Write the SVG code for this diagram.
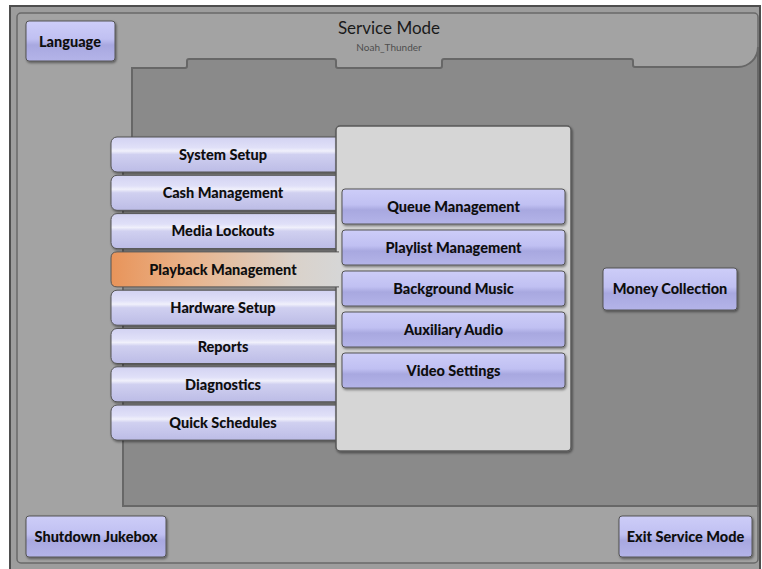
<svg xmlns="http://www.w3.org/2000/svg" width="762" height="569" viewBox="0 0 762 569">
  <defs>
    <linearGradient id="gMenu" x1="0" y1="0" x2="0" y2="1">
      <stop offset="0" stop-color="#d2d2f2"/>
      <stop offset="0.3" stop-color="#e0e0f8"/>
      <stop offset="0.4" stop-color="#f0f0fb"/>
      <stop offset="0.5" stop-color="#d0d0f0"/>
      <stop offset="1" stop-color="#bcbce6"/>
    </linearGradient>
    <linearGradient id="gBtn" x1="0" y1="0" x2="0" y2="1">
      <stop offset="0" stop-color="#cdcdf8"/>
      <stop offset="0.45" stop-color="#c0c0f2"/>
      <stop offset="0.6" stop-color="#a8a8e0"/>
      <stop offset="1" stop-color="#b4b4e8"/>
    </linearGradient>
    <linearGradient id="gActive" x1="0" y1="0" x2="1" y2="0">
      <stop offset="0" stop-color="#e8945a"/>
      <stop offset="0.35" stop-color="#e9b48c"/>
      <stop offset="0.8" stop-color="#dad2ca"/>
      <stop offset="1" stop-color="#d6d6d6"/>
    </linearGradient>
    <filter id="shadow" x="-10%" y="-10%" width="130%" height="140%">
      <feDropShadow dx="1" dy="1.5" stdDeviation="1" flood-color="#000" flood-opacity="0.45"/>
    </filter>
  </defs>
  <style>
    .btn { fill: url(#gBtn); stroke: #555; stroke-width: 1; filter: url(#shadow); }
    .menu { fill: url(#gMenu); stroke: #555; stroke-width: 1; filter: url(#shadow); }
    .lbl { font-family: Lato, "Liberation Sans", sans-serif; font-weight: 900; font-size: 14.5px; fill: #0e0e0e; text-anchor: middle; }
  </style>

  <!-- outer frame and light backdrop -->
  <rect x="0" y="0" width="762" height="569" fill="#ffffff"/>
  <rect x="10" y="6" width="750" height="565" fill="#9d9d9d" stroke="#4e4e4e" stroke-width="2"/>
  <rect x="17" y="13" width="741" height="550" rx="4" fill="#a3a3a3" stroke="#696969" stroke-width="1.5"/>

  <!-- darker work area below the header tab -->
  <path d="M123,506 V140 H132 V68 H185 Q187,68 187,66 V61 Q187,59 189,59 H334 Q336,59 336,61 V66 Q336,68 338,68 H440 Q442,68 442,66 V61 Q442,59 444,59 H631 Q633,59 633,61 V65 Q633,67 635,67 H738 A20,20 0 0 0 758,47 V506 Z" fill="#8a8a8a" stroke="#676767" stroke-width="2"/>

  <!-- header title -->
  <text x="389" y="34" font-family="Lato, 'Liberation Sans', sans-serif" font-size="17" fill="#1a1a1a" text-anchor="middle">Service Mode</text>
  <text x="389" y="51" font-family="Lato, 'Liberation Sans', sans-serif" font-size="10" fill="#4e4e4e" text-anchor="middle">Noah_Thunder</text>

  <g id="language">
    <rect class="btn" x="26" y="21" width="89" height="40" rx="3"/>
    <text class="lbl" x="70" y="47">Language</text>
  </g>

  <!-- main menu column -->
  <g id="system-setup">
    <rect class="menu" x="111" y="137" width="232" height="35" rx="6"/>
    <text class="lbl" x="223" y="160">System Setup</text>
  </g>
  <g id="cash-management">
    <rect class="menu" x="111" y="175.3" width="232" height="35" rx="6"/>
    <text class="lbl" x="223" y="198">Cash Management</text>
  </g>
  <g id="media-lockouts">
    <rect class="menu" x="111" y="213.6" width="232" height="35" rx="6"/>
    <text class="lbl" x="223" y="236">Media Lockouts</text>
  </g>
  <g id="hardware-setup">
    <rect class="menu" x="111" y="290.2" width="232" height="35" rx="6"/>
    <text class="lbl" x="223" y="313">Hardware Setup</text>
  </g>
  <g id="reports">
    <rect class="menu" x="111" y="328.5" width="232" height="35" rx="6"/>
    <text class="lbl" x="223" y="352">Reports</text>
  </g>
  <g id="diagnostics">
    <rect class="menu" x="111" y="366.8" width="232" height="35" rx="6"/>
    <text class="lbl" x="223" y="390">Diagnostics</text>
  </g>
  <g id="quick-schedules">
    <rect class="menu" x="111" y="405.1" width="232" height="35" rx="6"/>
    <text class="lbl" x="223" y="428">Quick Schedules</text>
  </g>

  <!-- submenu panel -->
  <g id="submenu-panel">
    <rect x="336" y="126" width="235" height="325" rx="4" fill="#d6d6d6" stroke="#5a5a5a" stroke-width="1.5" filter="url(#shadow)"/>
  </g>

  <!-- selected menu entry, opening into the panel -->
  <g id="playback-management">
    <path d="M339,251.9 H117 Q111,251.9 111,257.9 V280.9 Q111,286.9 117,286.9 H339" fill="url(#gActive)" stroke="#555" stroke-width="1"/>
    <text class="lbl" x="223" y="275">Playback Management</text>
  </g>

  <g id="queue-management">
    <rect class="btn" x="342" y="189" width="223" height="35" rx="3"/>
    <text class="lbl" x="453.5" y="212">Queue Management</text>
  </g>
  <g id="playlist-management">
    <rect class="btn" x="342" y="230" width="223" height="35" rx="3"/>
    <text class="lbl" x="453.5" y="253">Playlist Management</text>
  </g>
  <g id="background-music">
    <rect class="btn" x="342" y="271" width="223" height="35" rx="3"/>
    <text class="lbl" x="453.5" y="294">Background Music</text>
  </g>
  <g id="auxiliary-audio">
    <rect class="btn" x="342" y="312" width="223" height="35" rx="3"/>
    <text class="lbl" x="453.5" y="335">Auxiliary Audio</text>
  </g>
  <g id="video-settings">
    <rect class="btn" x="342" y="353" width="223" height="35" rx="3"/>
    <text class="lbl" x="453.5" y="376">Video Settings</text>
  </g>

  <g id="money-collection">
    <rect class="btn" x="603" y="268" width="134" height="42" rx="3"/>
    <text class="lbl" x="670" y="294">Money Collection</text>
  </g>

  <g id="shutdown-jukebox">
    <rect class="btn" x="26" y="516" width="140" height="41" rx="3"/>
    <text class="lbl" x="96" y="542">Shutdown Jukebox</text>
  </g>
  <g id="exit-service-mode">
    <rect class="btn" x="619" y="516" width="133" height="41" rx="3"/>
    <text class="lbl" x="685.5" y="542">Exit Service Mode</text>
  </g>
</svg>
